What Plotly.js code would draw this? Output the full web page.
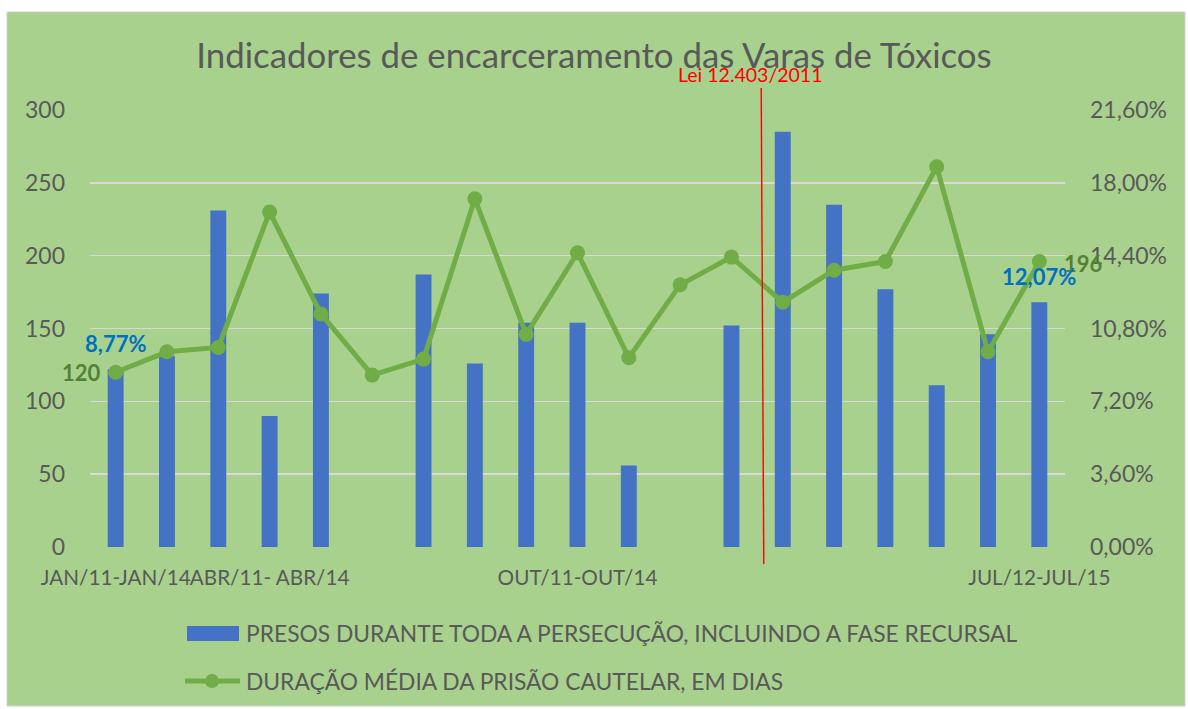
<!DOCTYPE html>
<html>
<head>
<meta charset="utf-8">
<script src="https://cdn.plot.ly/plotly-3.0.1.min.js"></script>
<style>html,body{margin:0;padding:0;background:#fff;}#chart{width:1188px;height:709px;}</style>
</head>
<body>
<div id="chart"></div>
<script>
// ---- data ----
const slots = [0,1,2,3,4,5,6,7,8,9,10,11,12,13,14,15,16,17,18];
const periodLabels = ["JAN/11-JAN/14","","","ABR/11- ABR/14","","","","","","OUT/11-OUT/14","","","","","","","","","JUL/12-JUL/15"];
const presos = [122,131,231,90,174,null,187,126,154,154,56,null,152,285,235,177,111,146,168];
const duracao = [120,134,137,230,160,118,129,239,146,202,130,180,199,168,190,196,261,134,196];
const pctFirst = "8,77%";
const pctLast = "12,07%";
const nameBar = "PRESOS DURANTE TODA A PERSECUÇÃO, INCLUINDO A FASE RECURSAL";
const nameLine = "DURAÇÃO MÉDIA DA PRISÃO CAUTELAR, EM DIAS";
const leiSlot = 12.6;
const leiText = "Lei 12.403/2011";
const titleText = "Indicadores de encarceramento das Varas de Tóxicos";

// ---- layout helpers ----
const L = 90, R = 123, T = 110, B = 162, WW = 1188, HH = 709;
const PW = WW - L - R, PH = HH - T - B;
const PX = x => (x - L) / PW;
const PY = y => (T + PH - y) / PH;

const font = "Lato, 'Open Sans', sans-serif";
const grey = "#595959";
const blue = "#4472c4";
const green = "#70ad47";

const tickvals = slots.filter((s, i) => periodLabels[i] !== "");
const ticktext = periodLabels.filter(t => t !== "");

const traces = [
  {type: "bar", x: slots, y: presos, name: nameBar, marker: {color: blue}, hoverinfo: "y", showlegend: false},
  {type: "scatter", mode: "lines+markers", x: slots, y: duracao, name: nameLine,
   line: {color: green, width: 5}, marker: {color: green, size: 15}, showlegend: false},
  {type: "scatter", mode: "markers", x: [null], y: [null], yaxis: "y2", showlegend: false, hoverinfo: "skip"}
];

const n = slots.length;
const annotations = [
  {xref: "x", yref: "y", x: slots[0], y: duracao[0], text: String(duracao[0]), showarrow: false,
   xshift: -34, font: {family: font, size: 22, color: "#548235", weight: 700}},
  {xref: "x", yref: "y", x: slots[0], y: duracao[0], text: pctFirst, showarrow: false,
   yshift: 29, font: {family: font, size: 22, color: "#0070c0", weight: 700}},
  {xref: "x", yref: "y", x: slots[n-1], y: duracao[n-1], text: String(duracao[n-1]), showarrow: false,
   xshift: 44, yshift: -2, font: {family: font, size: 22, color: "#548235", weight: 700}},
  {xref: "x", yref: "y", x: slots[n-1], y: duracao[n-1], text: pctLast, showarrow: false,
   yshift: -15, font: {family: font, size: 22, color: "#0070c0", weight: 700}},
  {xref: "x", yref: "paper", x: leiSlot - 0.24, y: PY(75), text: leiText, showarrow: false,
   xanchor: "center", yanchor: "middle", font: {family: font, size: 19.5, color: "#ff0000"}},
  {xref: "paper", yref: "paper", x: PX(244), y: PY(633), text: nameBar, showarrow: false,
   xanchor: "left", yanchor: "middle", font: {family: font, size: 22.8, color: grey}},
  {xref: "paper", yref: "paper", x: PX(244), y: PY(681), text: nameLine, showarrow: false,
   xanchor: "left", yanchor: "middle", font: {family: font, size: 22.8, color: grey}}
];

const shapes = [
  {type: "rect", xref: "paper", yref: "paper", x0: PX(7), x1: PX(1185), y0: PY(706), y1: PY(12),
   fillcolor: "#a9d18e", line: {color: "#d0d0d0", width: 1}, layer: "below"},
  {type: "line", xref: "x", yref: "paper", x0: leiSlot - 0.02, x1: leiSlot + 0.03, y0: PY(88), y1: PY(564),
   line: {color: "#ff0000", width: 1.4}},
  {type: "rect", xref: "paper", yref: "paper", x0: PX(187), x1: PX(239), y0: PY(641), y1: PY(626),
   fillcolor: blue, line: {width: 0}},
  {type: "line", xref: "paper", yref: "paper", x0: PX(185), x1: PX(240), y0: PY(681), y1: PY(681),
   line: {color: green, width: 5}},
  {type: "circle", xref: "paper", yref: "paper", x0: PX(205), x1: PX(219), y0: PY(688), y1: PY(674),
   fillcolor: green, line: {width: 0}}
];

const layout = {
  width: WW, height: HH,
  margin: {l: L, r: R, t: T, b: B, pad: 0},
  paper_bgcolor: "#ffffff",
  plot_bgcolor: "rgba(0,0,0,0)",
  separators: ",.",
  showlegend: false,
  bargap: 0.69,
  font: {family: font, color: grey},
  title: {text: titleText, font: {family: font, size: 34.8, color: grey},
          x: 0.5, xanchor: "center", xref: "container", y: 1 - 56/HH, yref: "container", yanchor: "middle"},
  xaxis: {range: [-0.5, n - 0.5], tickvals: tickvals, ticktext: ticktext, tickangle: 0, showgrid: false, zeroline: false,
          showline: false, ticks: "", tickfont: {family: font, size: 20.7, color: grey}, ticklabelstandoff: 16, fixedrange: true},
  yaxis: {range: [0, 300], dtick: 50, tick0: 0, showgrid: true, gridcolor: "#d9d9d9", gridwidth: 1.5,
          zeroline: false, showline: false, ticks: "", tickfont: {family: font, size: 23, color: grey},
          ticklabelstandoff: 24, fixedrange: true},
  yaxis2: {range: [0, 21.6], dtick: 3.6, tick0: 0, overlaying: "y", side: "right", showgrid: false,
           zeroline: false, showline: false, ticks: "", tickformat: ".2f", ticksuffix: "%",
           tickfont: {family: font, size: 23, color: grey}, ticklabelstandoff: 24, fixedrange: true},
  annotations: annotations,
  shapes: shapes
};

Plotly.newPlot("chart", traces, layout, {displayModeBar: false, staticPlot: true});
</script>
</body>
</html>
